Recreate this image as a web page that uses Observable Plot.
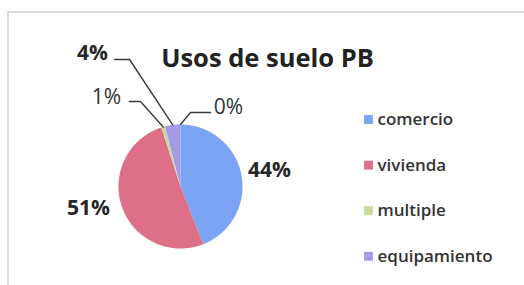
<!DOCTYPE html>
<html><head><meta charset="utf-8">
<script src="https://cdn.jsdelivr.net/npm/d3@7"></script>
<script src="https://cdn.jsdelivr.net/npm/@observablehq/plot@0.6"></script>
<style>
html,body{margin:0;padding:0;background:#fff;}
#chart{position:relative;width:524px;height:285px;overflow:hidden;}
#border{position:absolute;left:7px;top:11px;width:600px;height:400px;border:2px solid #dcdce2;box-sizing:border-box;}
#chart svg{position:absolute;left:0;top:0;}
</style></head><body><div id="chart"><div id="border"></div></div>
<script>
// ---- data ----
const title = "Usos de suelo PB";
const categories = ["comercio", "vivienda", "multiple", "equipamiento", ""];
const values = [44, 51, 1, 4, 0];
const colors = ["#7ba4f4", "#dd6f87", "#c6da9e", "#a59ae8", "#999999"];
const legendCategories = ["comercio", "vivienda", "multiple", "equipamiento"];

// ---- layout (pixels) ----
const W = 524, H = 285, CX = 180, CY = 186, R = 62;
const ux = px => (px - CX) / R, uy = py => (CY - py) / R;
// label placement per slice: text centre, weight, optional leader (start, elbow)
const labelLayout = [
  {tx: 269, ty: 170, bold: true},
  {tx: 88, ty: 208, bold: true},
  {tx: 106, ty: 97, bold: false, lead: [[129, 101], [140, 101]]},
  {tx: 92, ty: 53, bold: true, lead: [[114, 59], [129, 59]]},
  {tx: 228, ty: 107, bold: false, lead: [[210, 112], [190, 112]]}
];
const legendX = 368, legendTextX = 377, legendY0 = 119, legendStep = 45.6;

// ---- derived ----
const total = d3.sum(values);
let acc = 0;
const slices = values.map((v, i) => {
  const a0 = acc / total * 2 * Math.PI; acc += v;
  const a1 = acc / total * 2 * Math.PI;
  return {cat: categories[i], value: v, a0, a1, mid: (a0 + a1) / 2, i};
});
const poly = [];
slices.forEach(s => {
  if (s.value <= 0) return;
  poly.push({cat: s.cat, x: 0, y: 0});
  const n = Math.max(2, Math.ceil((s.a1 - s.a0) / (Math.PI / 360)));
  for (let k = 0; k <= n; k++) {
    const a = s.a0 + (s.a1 - s.a0) * k / n;
    poly.push({cat: s.cat, x: Math.sin(a), y: Math.cos(a)});
  }
});
const labels = slices.map(s => ({
  text: Math.round(s.value / total * 100) + "%",
  x: ux(labelLayout[s.i].tx), y: uy(labelLayout[s.i].ty),
  bold: labelLayout[s.i].bold
}));
const leaders = [];
slices.forEach(s => {
  const L = labelLayout[s.i];
  if (!L.lead) return;
  L.lead.forEach(p => leaders.push({k: s.i, x: ux(p[0]), y: uy(p[1])}));
  leaders.push({k: s.i, x: 1.0 * Math.sin(s.mid), y: 1.0 * Math.cos(s.mid)});
});
const legend = legendCategories.map((c, i) => ({
  cat: c, x: ux(legendX), tx: ux(legendTextX), y: uy(legendY0 + i * legendStep)
}));

const chart = Plot.plot({
  width: W, height: H, margin: 0,
  style: {fontFamily: "'Open Sans', sans-serif", background: "transparent", color: "#262626"},
  x: {domain: [ux(0), ux(W)], axis: null},
  y: {domain: [uy(H), uy(0)], axis: null},
  color: {domain: categories, range: colors},
  marks: [
    Plot.line(poly, {x: "x", y: "y", z: "cat", fill: "cat", stroke: "none", curve: "linear-closed"}),
    Plot.line(leaders, {x: "x", y: "y", z: "k", stroke: "#3a3a3a", strokeWidth: 1.4}),
    Plot.text(labels.filter(d => d.bold), {x: "x", y: "y", text: "text", fontSize: 21, fontWeight: "bold", fill: "#262626"}),
    Plot.text(labels.filter(d => !d.bold), {x: "x", y: "y", text: "text", fontSize: 21, fill: "#333"}),
    Plot.text([{t: title, x: ux(267), y: uy(58)}], {x: "x", y: "y", text: "t", fontSize: 25.5, fontWeight: "bold", fill: "#222"}),
    Plot.dot(legend, {x: "x", y: "y", fill: "cat", symbol: "square", r: 5}),
    Plot.text(legend, {x: "tx", y: "y", text: "cat", textAnchor: "start", fontSize: 17, fontWeight: 600, fill: "#333"})
  ]
});
document.getElementById("chart").appendChild(chart);
</script>
</body></html>
